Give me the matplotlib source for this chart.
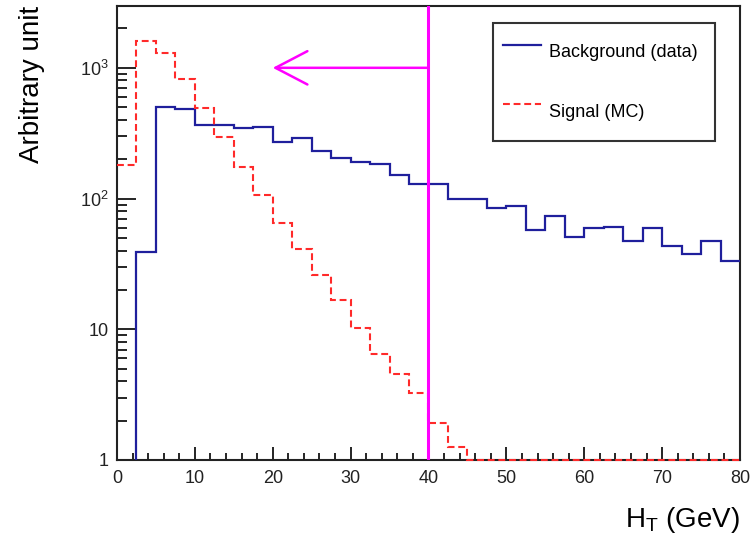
import matplotlib
matplotlib.use("Agg")
import matplotlib.pyplot as plt
import numpy as np
from matplotlib.lines import Line2D
from matplotlib.ticker import FixedLocator, FixedFormatter, LogLocator, MultipleLocator

# H_T histograms, 32 bins of 2.5 GeV from 0 to 80 GeV
bin_edges = np.arange(0, 80.1, 2.5)
background = [0.001, 39, 505, 482, 365, 365, 349, 355, 272, 290, 231, 204,
              190, 183, 152, 129, 129, 99, 99, 84, 88, 57.5, 73.6, 50.8,
              60, 61, 47.1, 59.6, 43.4, 37.5, 47.1, 33.1]
signal = [181, 1607, 1292, 818, 497, 298, 175, 107, 65, 41.4, 26, 16.6,
          10.3, 6.5, 4.55, 3.24, 1.91, 1.26, 1, 1, 1, 1, 1, 1,
          1, 1, 1, 1, 1, 1, 1, 1]

cut_value = 40
arrow_end = 20
arrow_level = 1000

y_ticks = [1, 10, 100, 1000]
y_tick_labels = ["1", "10", "$10^{2}$", "$10^{3}$"]

blue = "#1f1f9c"
red = "#ff2a2a"
magenta = "#ff00ff"

plt.rcParams["font.family"] = ["Liberation Sans", "DejaVu Sans"]
plt.rcParams["mathtext.fontset"] = "custom"
plt.rcParams["mathtext.rm"] = "Liberation Sans"
plt.rcParams["mathtext.it"] = "Liberation Sans:italic"

fig = plt.figure(figsize=(7.52, 5.37), dpi=100)
ax = fig.add_axes([0.1556, 0.1434, 0.8284, 0.8454])

ax.stairs(background, bin_edges, baseline=None, color=blue, lw=1.6,
          label="Background (data)", zorder=3)
ax.stairs(signal, bin_edges, baseline=None, color=red, lw=1.5,
          linestyle=(0, (3.3, 1.8)), label="Signal (MC)", zorder=4,
          clip_on=False)

ax.axvline(cut_value, color=magenta, lw=2.2, zorder=5)
ax.annotate("", xy=(arrow_end, arrow_level), xytext=(cut_value, arrow_level),
            arrowprops=dict(arrowstyle="->,head_length=2.3,head_width=1.2",
                            color=magenta, lw=1.8, shrinkA=0, shrinkB=0,
                            mutation_scale=10),
            zorder=5)

ax.set_yscale("log")
ax.set_xlim(0, 80)
ax.set_ylim(1, 2970)

ax.xaxis.set_major_locator(MultipleLocator(10))
ax.xaxis.set_minor_locator(MultipleLocator(2))
ax.yaxis.set_major_locator(FixedLocator(y_ticks))
ax.yaxis.set_major_formatter(FixedFormatter(y_tick_labels))
ax.yaxis.set_minor_locator(LogLocator(base=10, subs=np.arange(2, 10)))
ax.yaxis.set_minor_formatter(FixedFormatter([]))

ax.tick_params(axis="both", which="both", direction="in", top=False, right=False,
               labelsize=13, colors="black", width=1.2)
ax.tick_params(axis="x", which="major", length=9.5, pad=7)
ax.tick_params(axis="x", which="minor", length=5)
ax.tick_params(axis="y", which="major", length=13.5, pad=6)
ax.tick_params(axis="y", which="minor", length=7)
for lab in ax.get_xticklabels() + ax.get_yticklabels():
    lab.set_color("#222222")

for s in ax.spines.values():
    s.set_linewidth(1.5)
    s.set_color("#222222")

ax.set_ylabel("Arbitrary unit", fontsize=20, loc="top", labelpad=25)
ax.set_xlabel("H$_{\\mathregular{T}}$ (GeV)", fontsize=20, loc="right", labelpad=13)

handles = [Line2D([], [], color=blue, lw=1.6),
           Line2D([], [], color=red, lw=1.5, linestyle=(0, (3.3, 1.8)))]
leg = ax.legend(handles, ["Background (data)", "Signal (MC)"],
                loc="upper left", bbox_to_anchor=(0.6035, 0.700, 0.3565, 0.2626),
                mode="expand", borderaxespad=0, fontsize=13, frameon=True,
                fancybox=False, framealpha=1, edgecolor="#333333",
                borderpad=0.55, handlelength=2.1, handletextpad=0.45,
                handleheight=2.9, labelspacing=1.15)
leg.get_frame().set_linewidth(1.5)

fig.savefig("out.png", dpi=100)
